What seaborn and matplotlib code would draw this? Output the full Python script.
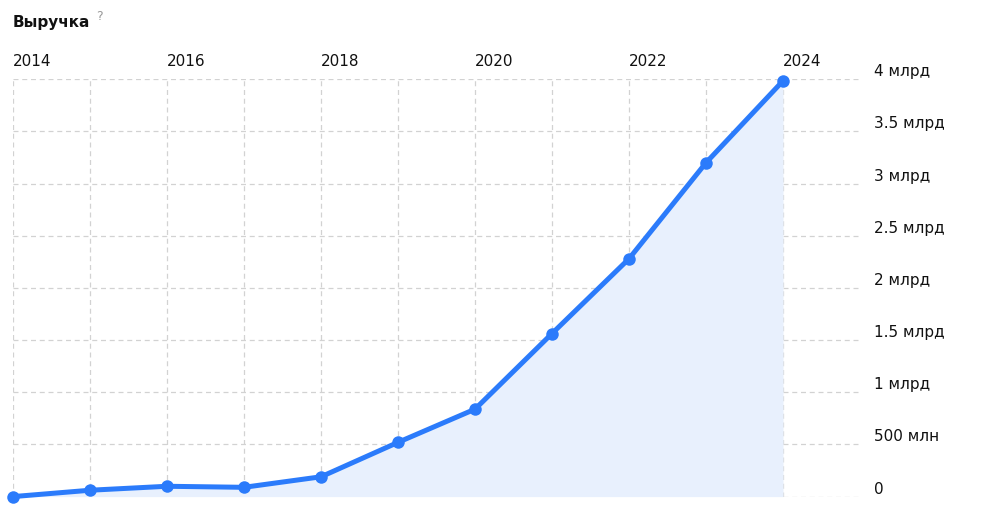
import matplotlib
matplotlib.use("Agg")
import matplotlib.pyplot as plt
import seaborn as sns
import pandas as pd

# revenue by year, billions of rubles
years = [2014, 2015, 2016, 2017, 2018, 2019, 2020, 2021, 2022, 2023, 2024]
revenue = [0.0, 0.061, 0.099, 0.089, 0.19, 0.52, 0.838, 1.563, 2.28, 3.20, 3.985]

year_ticks = [2014, 2016, 2018, 2020, 2022, 2024]
y_ticks = [0, 0.5, 1, 1.5, 2, 2.5, 3, 3.5, 4]
y_labels = ["0", "500 млн", "1 млрд", "1.5 млрд", "2 млрд", "2.5 млрд",
            "3 млрд", "3.5 млрд", "4 млрд"]

df = pd.DataFrame({"year": years, "revenue": revenue})

sns.set_style("white")
plt.rcParams["font.family"] = ["DejaVu Sans"]

line_col = "#2B7BFB"
fill_col = "#E8F0FD"
grid_col = "#d2d2d2"

fig = plt.figure(figsize=(9.82, 5.22), dpi=100)
W, H = 982, 522
x0, x1 = 13, 860
ytop, ybot = 79.3, 496.6
ax = fig.add_axes([x0 / W, 1 - ybot / H, (x1 - x0) / W, (ybot - ytop) / H])

ax.fill_between(df["year"], df["revenue"], 0, color=fill_col, zorder=1, lw=0)
sns.lineplot(data=df, x="year", y="revenue", ax=ax, color=line_col,
             linewidth=3.6, marker="o", markersize=9, markeredgewidth=0,
             zorder=3, clip_on=False)

ax.set_xlim(2014, 2025)
ax.set_ylim(0, 4)

# grid
for yr in years:
    ax.axvline(yr, color=grid_col, lw=0.9, ls=(0, (4, 3)), zorder=0)
for v in y_ticks:
    ax.axhline(v, color=grid_col, lw=0.9, ls=(0, (4, 3)), zorder=0)

for s in ax.spines.values():
    s.set_visible(False)

ax.xaxis.tick_top()
ax.set_xticks(year_ticks)
ax.set_xticklabels([str(y) for y in year_ticks])
ax.tick_params(axis="x", length=0, pad=7.5, labelsize=11, colors="#111111")
for lab in ax.get_xticklabels():
    lab.set_ha("left")

ax.yaxis.tick_right()
ax.set_yticks(y_ticks)
ax.set_yticklabels(y_labels)
ax.tick_params(axis="y", length=0, pad=10, labelsize=11, colors="#111111")
for lab in ax.get_yticklabels():
    lab.set_va("bottom")

ax.set_xlabel("")
ax.set_ylabel("")

fig.text(13 / W, 1 - 22 / H, "Выручка", fontsize=11, fontweight="bold",
         va="center", ha="left", color="#111111")
fig.text(96 / W, 1 - 16 / H, "?", fontsize=9, va="center", ha="left",
         color="#9a9a9a")

fig.savefig("out.png", dpi=100)
